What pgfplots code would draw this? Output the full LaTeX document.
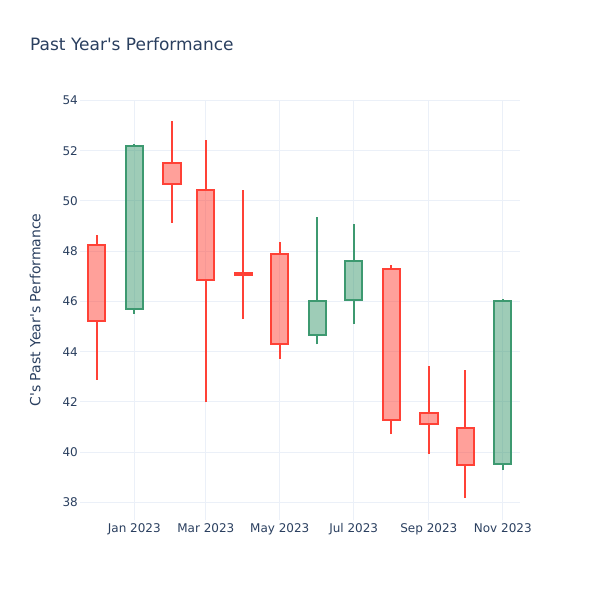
\documentclass[border=0pt]{standalone}
\usepackage{pgfplots}
\pgfplotsset{compat=1.18}
\usepackage{fontspec}
\setmainfont{DejaVu Sans}
\definecolor{inc}{HTML}{3D9970}
\definecolor{dec}{HTML}{FF4136}
\definecolor{gridc}{HTML}{EBF0F8}
\definecolor{txt}{HTML}{2A3F5F}
% x, x left, x right, low, box bottom, box top, high, colour
\newcommand\candle[8]{%
  \addplot[#8, line width=2pt, unbounded coords=jump, forget plot]
    coordinates {(#1,#4) (#1,#5) (#1,nan) (#1,#6) (#1,#7)};
  \addplot[draw=#8, fill=#8, fill opacity=0.5, line width=2pt, forget plot]
    coordinates {(#2,#5) (#3,#5) (#3,#6) (#2,#6)} -- cycle;}
\begin{document}
\begin{tikzpicture}[x=1pt,y=1pt]
\path[use as bounding box] (0,0) rectangle (600,600);
\node[anchor=base west, font=\fontsize{17}{20}\selectfont, text=txt, inner sep=0] at (30,549) {Past Year\textquotesingle s Performance};
\begin{axis}[at={(80pt,80pt)}, anchor=south west, scale only axis,
  width=440pt, height=420pt,
  xmin=-44.8, xmax=318.2, ymin=37.30, ymax=54.02,
  axis line style={draw=none}, tick style={draw=none},
  grid=major, grid style={gridc, line width=1pt},
  xtick={0,59,120,181,243,304},
  xticklabels={Jan 2023,Mar 2023,May 2023,Jul 2023,Sep 2023,Nov 2023},
  ytick={38,40,...,54},
  /pgf/number format/assume math mode=true,
  ticklabel style={font=\fontsize{12}{14}\selectfont, text=txt},
  xticklabel style={anchor=north, inner sep=0pt, yshift=-3pt},
  yticklabel style={anchor=east, inner sep=0pt, xshift=-2pt},
  ylabel={C\textquotesingle s Past Year\textquotesingle s Performance},
  ylabel style={font=\fontsize{14}{16}\selectfont, text=txt, at={(axis description cs:-0.102,0.50)}, anchor=center, rotate=0},
  clip=false,
]
\candle{-31}{-38.15}{-23.85}{42.88}{45.24}{48.26}{48.65}{dec}
\candle{0}{-7.15}{7.15}{45.51}{45.71}{52.20}{52.27}{inc}
\candle{31}{23.85}{38.15}{49.13}{50.67}{51.53}{53.20}{dec}
\candle{59}{51.85}{66.15}{41.99}{46.87}{50.45}{52.43}{dec}
\candle{90}{82.85}{97.15}{45.30}{47.07}{47.12}{50.43}{dec}
\candle{120}{112.85}{127.15}{43.71}{44.30}{47.88}{48.36}{dec}
\candle{151}{143.85}{158.15}{44.29}{44.65}{46.01}{49.38}{inc}
\candle{181}{173.85}{188.15}{45.10}{46.05}{47.63}{49.09}{inc}
\candle{212}{204.85}{219.15}{40.72}{41.28}{47.31}{47.44}{dec}
\candle{243}{235.85}{250.15}{39.94}{41.12}{41.57}{43.42}{dec}
\candle{273}{265.85}{280.15}{38.17}{39.47}{40.96}{43.28}{dec}
\candle{304}{296.85}{311.15}{39.29}{39.52}{46.02}{46.11}{inc}
\end{axis}
\end{tikzpicture}
\end{document}
